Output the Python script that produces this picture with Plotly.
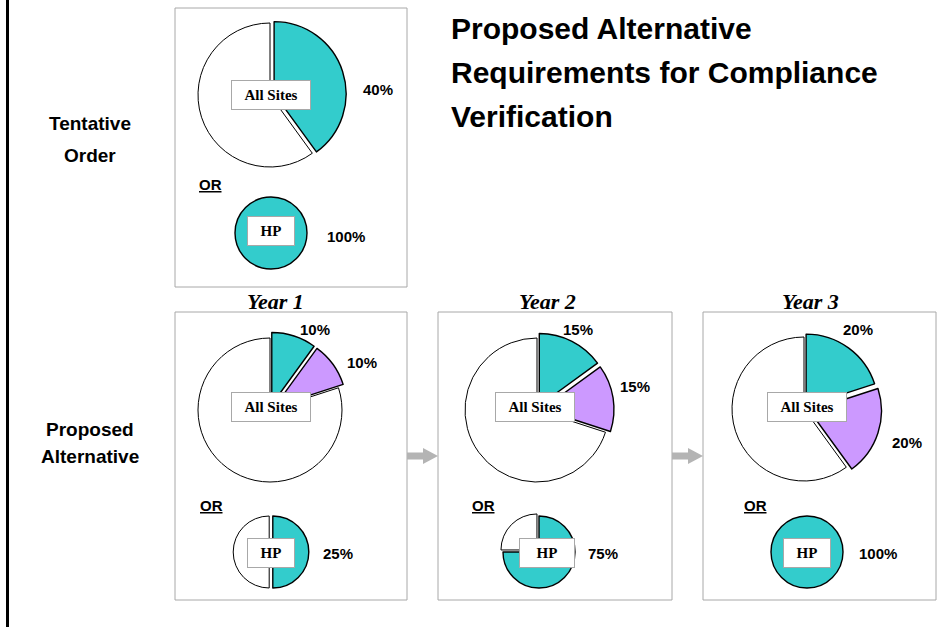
import plotly.graph_objects as go

W, H = 952, 627

# ---------------- data ----------------
years = ["Year 1", "Year 2", "Year 3"]
tentative_all_sites = [40, 60]          # teal share, remainder
tentative_hp = [100]
alt_teal = [10, 15, 20]
alt_purple = [10, 15, 20]
alt_rest = [80, 70, 60]
hp_teal_drawn = [50, 75, 100]
hp_rest_drawn = [50, 25, 0]
hp_labels = ["25%", "75%", "100%"]

TEAL = "#33CCCC"
PURPLE = "#CC99FF"
WHITE = "#FFFFFF"
BOX = "#A8A8A8"
SANS = "Liberation Sans, Arial, sans-serif"
SERIF = "Liberation Serif, Times New Roman, serif"


def px(x):
    return x / W


def py(y):
    return 1 - y / H


fig = go.Figure()


def add_pie(values, colors, pulls, cx, cy, r):
    vals, cols, pls, lws = [], [], [], []
    for v, c, p in zip(values, colors, pulls):
        if v > 0:
            vals.append(v)
            cols.append(c)
            pls.append(p)
            lws.append(1 if c == WHITE else 1.4)
    mp = max(pls) if pls else 0
    half = r * (1 + mp)
    fig.add_trace(go.Pie(
        values=vals,
        marker=dict(colors=cols, line=dict(color="black", width=lws)),
        pull=pls,
        sort=False,
        direction="clockwise",
        rotation=0,
        textinfo="none",
        hoverinfo="skip",
        showlegend=False,
        domain=dict(x=[px(cx - half), px(cx + half)],
                    y=[py(cy + half), py(cy - half)]),
    ))


def text(s, x, y, size, family=SANS, anchor="center", bold=True):
    fig.add_annotation(
        text=("<b>" + s + "</b>") if bold else s,
        x=px(x), y=py(y), xref="paper", yref="paper",
        xanchor=anchor, yanchor="middle", showarrow=False,
        font=dict(size=size, family=family, color="black"))


def label_box(s, x, y, w, h):
    fig.add_annotation(
        text="<b>" + s + "</b>", x=px(x), y=py(y), xref="paper", yref="paper",
        xanchor="center", yanchor="middle", showarrow=False,
        font=dict(size=15, family=SERIF, color="black"),
        bgcolor="white", bordercolor=BOX, borderwidth=1, borderpad=0,
        width=w, height=h)


shapes = []


def rect(x0, y0, x1, y1):
    shapes.append(dict(type="rect", xref="paper", yref="paper",
                       x0=px(x0), x1=px(x1), y0=py(y1), y1=py(y0),
                       line=dict(color=BOX, width=1), fillcolor="rgba(0,0,0,0)",
                       layer="below"))


def arrow(x0, yc):
    path = (f"M {px(x0)},{py(yc-3.5)} L {px(x0+16)},{py(yc-3.5)} "
            f"L {px(x0+16)},{py(yc-8)} L {px(x0+31)},{py(yc)} "
            f"L {px(x0+16)},{py(yc+8)} L {px(x0+16)},{py(yc+3.5)} "
            f"L {px(x0)},{py(yc+3.5)} Z")
    shapes.append(dict(type="path", xref="paper", yref="paper", path=path,
                       fillcolor="#B4B4B4", line=dict(width=0), layer="below"))


# left vertical rule
shapes.append(dict(type="line", xref="paper", yref="paper",
                   x0=px(7.5), x1=px(7.5), y0=0, y1=1,
                   line=dict(color="black", width=3)))

# boxes
rect(175, 8, 407, 287)
panel_x = [(175, 407), (438, 672), (703, 936)]
for x0, x1 in panel_x:
    rect(x0, 312, x1, 600)
arrow(407, 456)
arrow(672, 456)

# ---------------- tentative order ----------------
add_pie(tentative_all_sites, [TEAL, WHITE], [0.06, 0], 270, 95, 72)
add_pie(tentative_hp, [TEAL], [0], 271, 233, 36)
label_box("All Sites", 271, 95, 78, 28)
label_box("HP", 271, 231, 46, 28)
text(f"{tentative_all_sites[0]}%", 378, 90, 15)
text(f"{tentative_hp[0]}%", 346, 237, 15)
text("<u>OR</u>", 210, 185, 15)

# ---------------- proposed alternative ----------------
centers = [(270, 410), (537, 410), (804, 409)]
pulls_all = [[0.08, 0.08, 0], [0.07, 0.07, 0], [0.05, 0.08, 0]]
hp_centers = [(271, 552), (539, 552), (807, 552)]
hp_pulls = [[0.05, 0.05], [0, 0.08], [0, 0]]
box_centers = [(271, 407), (535, 407), (807, 407)]
hp_box = [(271, 553, 46), (547, 553, 54), (807, 553, 46)]
year_x = [275, 547, 810]
lab1 = [(315, 329), (578, 329), (858, 329)]
lab2 = [(362, 362), (635, 386), (907, 442)]
hp_lab = [(338, 553), (603, 553), (878, 553)]
or_x = [211, 483, 755]

for i in range(3):
    cx, cy = centers[i]
    add_pie([alt_teal[i], alt_purple[i], alt_rest[i]], [TEAL, PURPLE, WHITE],
            pulls_all[i], cx, cy, 72)
    hx, hy = hp_centers[i]
    add_pie([hp_teal_drawn[i], hp_rest_drawn[i]], [TEAL, WHITE], hp_pulls[i], hx, hy, 36)
    bx, by = box_centers[i]
    label_box("All Sites", bx, by, 78, 28)
    hbx, hby, hbw = hp_box[i]
    label_box("HP", hbx, hby, hbw, 28)
    text(f"<i>{years[i]}</i>", year_x[i], 302, 22, family=SERIF)
    text(f"{alt_teal[i]}%", *lab1[i], 15)
    text(f"{alt_purple[i]}%", *lab2[i], 15)
    text(hp_labels[i], *hp_lab[i], 15)
    text("<u>OR</u>", or_x[i], 505, 15)

# ---------------- row labels and title ----------------
text("Tentative", 90, 124, 19)
text("Order", 90, 155, 19)
text("Proposed", 90, 429, 19)
text("Alternative", 90, 457, 19)

text("Proposed Alternative", 449, 28, 30, anchor="left")
text("Requirements for Compliance", 449, 72, 30, anchor="left")
text("Verification", 449, 117, 30, anchor="left")

fig.update_layout(
    width=W, height=H,
    margin=dict(l=0, r=0, t=0, b=0),
    paper_bgcolor="white", plot_bgcolor="white",
    shapes=shapes,
    showlegend=False,
    xaxis=dict(visible=False), yaxis=dict(visible=False),
)

fig.write_html("out.html",
               config={"displayModeBar": False},
               post_script="document.body.style.margin='0';document.body.style.padding='0';")
